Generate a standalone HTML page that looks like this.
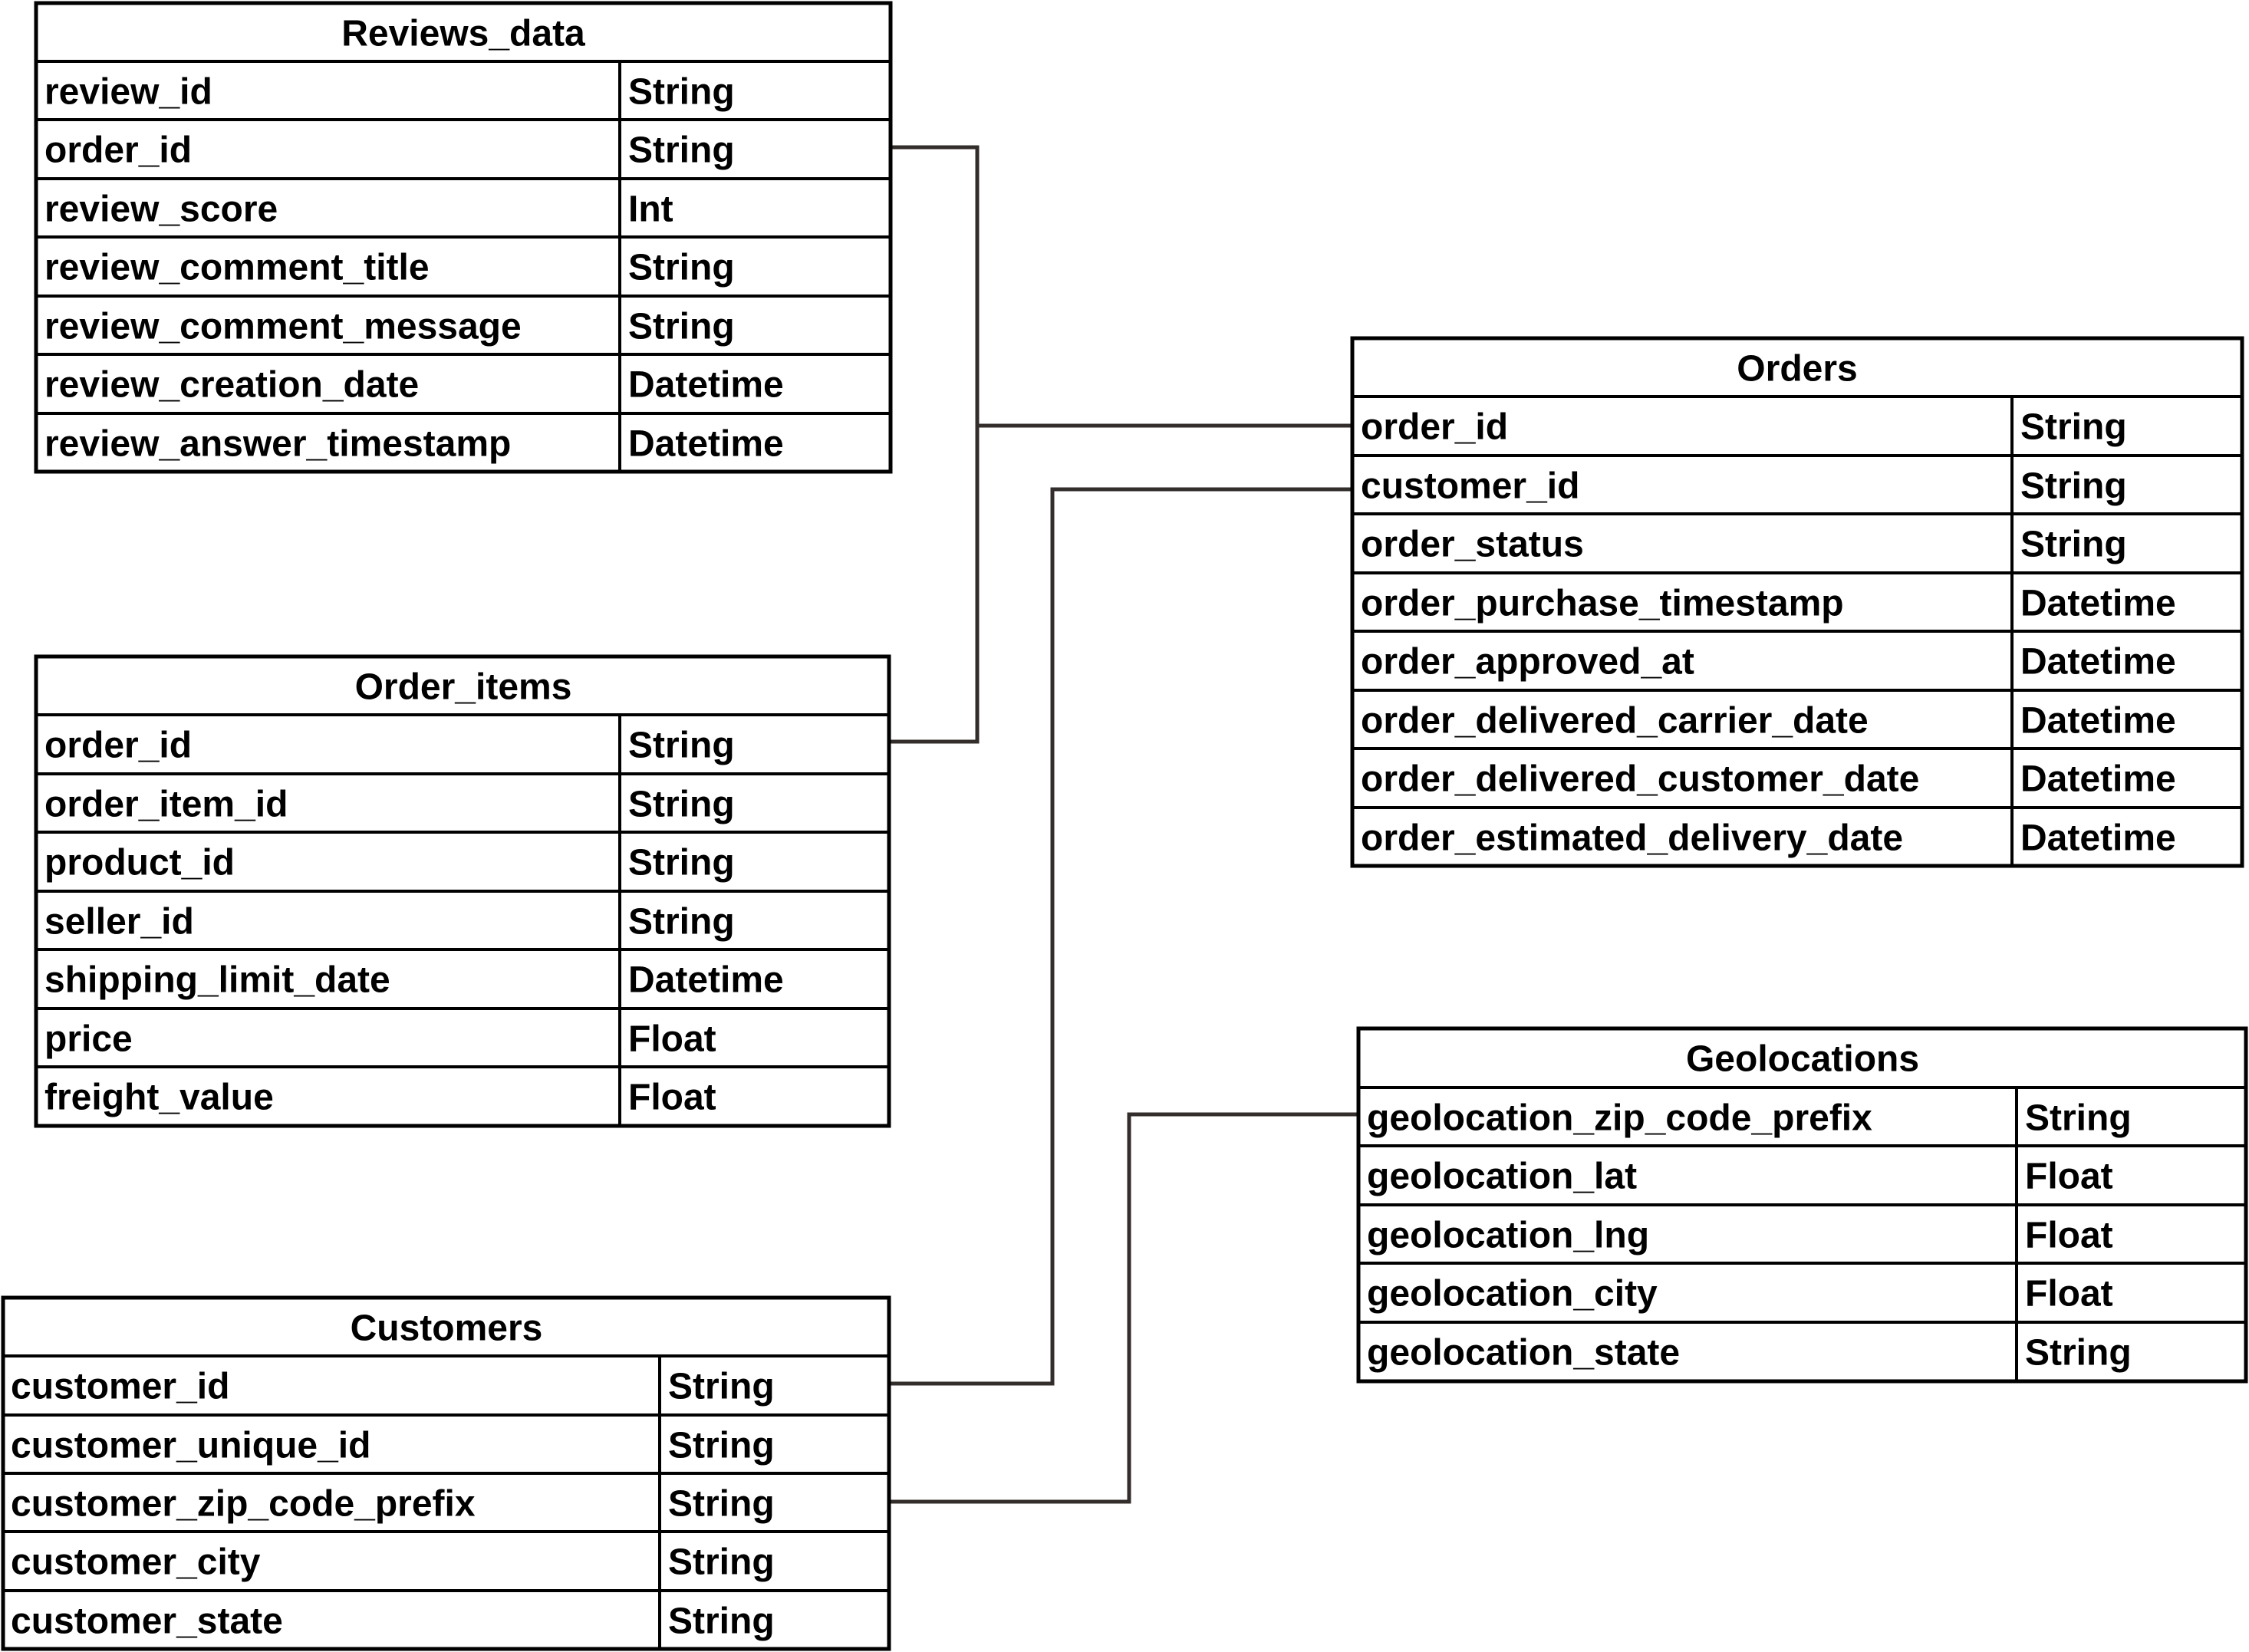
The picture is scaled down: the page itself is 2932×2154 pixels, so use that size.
<!DOCTYPE html>
<html><head><meta charset="utf-8"><style>
html,body{margin:0;padding:0;background:#fff;}
svg{display:block;}
text{font-family:"Liberation Sans",sans-serif;font-weight:bold;font-size:48px;fill:#000;dominant-baseline:central;}
.h{text-anchor:middle;}
.c{stroke:#332d2b;stroke-width:5;fill:none;}
.b{stroke:#000;stroke-width:5;fill:none;}
.t{stroke:#000;stroke-width:4;}
</style></head><body>
<svg width="2932" height="2154" viewBox="0 0 2932 2154" xmlns="http://www.w3.org/2000/svg">
<polyline class="c" points="1161,192 1274,192 1274,967 1159,967"/>
<line class="c" x1="1274" y1="555" x2="1763" y2="555"/>
<polyline class="c" points="1159,1804 1372,1804 1372,638 1763,638"/>
<polyline class="c" points="1159,1958 1472,1958 1472,1453 1771,1453"/>

<g>
<rect class="b" x="47" y="4" width="1114" height="611"/>
<line class="t" x1="47" y1="80" x2="1161" y2="80"/>
<line class="t" x1="47" y1="156" x2="1161" y2="156"/>
<line class="t" x1="47" y1="233" x2="1161" y2="233"/>
<line class="t" x1="47" y1="309" x2="1161" y2="309"/>
<line class="t" x1="47" y1="386" x2="1161" y2="386"/>
<line class="t" x1="47" y1="462" x2="1161" y2="462"/>
<line class="t" x1="47" y1="539" x2="1161" y2="539"/>
<line class="t" x1="808" y1="80" x2="808" y2="615"/>
<text class="h" x="604" y="44">Reviews_data</text>
<text x="58" y="120">review_id</text><text x="819" y="120">String</text>
<text x="58" y="196">order_id</text><text x="819" y="196">String</text>
<text x="58" y="273">review_score</text><text x="819" y="273">Int</text>
<text x="58" y="349">review_comment_title</text><text x="819" y="349">String</text>
<text x="58" y="426">review_comment_message</text><text x="819" y="426">String</text>
<text x="58" y="502">review_creation_date</text><text x="819" y="502">Datetime</text>
<text x="58" y="579">review_answer_timestamp</text><text x="819" y="579">Datetime</text>
</g>

<g>
<rect class="b" x="47" y="856" width="1112" height="612"/>
<line class="t" x1="47" y1="932" x2="1159" y2="932"/>
<line class="t" x1="47" y1="1009" x2="1159" y2="1009"/>
<line class="t" x1="47" y1="1085" x2="1159" y2="1085"/>
<line class="t" x1="47" y1="1162" x2="1159" y2="1162"/>
<line class="t" x1="47" y1="1238" x2="1159" y2="1238"/>
<line class="t" x1="47" y1="1315" x2="1159" y2="1315"/>
<line class="t" x1="47" y1="1391" x2="1159" y2="1391"/>
<line class="t" x1="808" y1="932" x2="808" y2="1468"/>
<text class="h" x="604" y="896">Order_items</text>
<text x="58" y="972">order_id</text><text x="819" y="972">String</text>
<text x="58" y="1049">order_item_id</text><text x="819" y="1049">String</text>
<text x="58" y="1125">product_id</text><text x="819" y="1125">String</text>
<text x="58" y="1202">seller_id</text><text x="819" y="1202">String</text>
<text x="58" y="1278">shipping_limit_date</text><text x="819" y="1278">Datetime</text>
<text x="58" y="1355">price</text><text x="819" y="1355">Float</text>
<text x="58" y="1431">freight_value</text><text x="819" y="1431">Float</text>
</g>

<g>
<rect class="b" x="4" y="1692" width="1155" height="458"/>
<line class="t" x1="4" y1="1768" x2="1159" y2="1768"/>
<line class="t" x1="4" y1="1845" x2="1159" y2="1845"/>
<line class="t" x1="4" y1="1921" x2="1159" y2="1921"/>
<line class="t" x1="4" y1="1997" x2="1159" y2="1997"/>
<line class="t" x1="4" y1="2074" x2="1159" y2="2074"/>
<line class="t" x1="860" y1="1768" x2="860" y2="2150"/>
<text class="h" x="582" y="1732">Customers</text>
<text x="14" y="1808">customer_id</text><text x="871" y="1808">String</text>
<text x="14" y="1885">customer_unique_id</text><text x="871" y="1885">String</text>
<text x="14" y="1961">customer_zip_code_prefix</text><text x="871" y="1961">String</text>
<text x="14" y="2037">customer_city</text><text x="871" y="2037">String</text>
<text x="14" y="2114">customer_state</text><text x="871" y="2114">String</text>
</g>

<g>
<rect class="b" x="1763" y="441" width="1160" height="688"/>
<line class="t" x1="1763" y1="517" x2="2923" y2="517"/>
<line class="t" x1="1763" y1="594" x2="2923" y2="594"/>
<line class="t" x1="1763" y1="670" x2="2923" y2="670"/>
<line class="t" x1="1763" y1="747" x2="2923" y2="747"/>
<line class="t" x1="1763" y1="823" x2="2923" y2="823"/>
<line class="t" x1="1763" y1="900" x2="2923" y2="900"/>
<line class="t" x1="1763" y1="976" x2="2923" y2="976"/>
<line class="t" x1="1763" y1="1053" x2="2923" y2="1053"/>
<line class="t" x1="2623" y1="517" x2="2623" y2="1129"/>
<text class="h" x="2343" y="481">Orders</text>
<text x="1774" y="557">order_id</text><text x="2634" y="557">String</text>
<text x="1774" y="634">customer_id</text><text x="2634" y="634">String</text>
<text x="1774" y="710">order_status</text><text x="2634" y="710">String</text>
<text x="1774" y="787">order_purchase_timestamp</text><text x="2634" y="787">Datetime</text>
<text x="1774" y="863">order_approved_at</text><text x="2634" y="863">Datetime</text>
<text x="1774" y="940">order_delivered_carrier_date</text><text x="2634" y="940">Datetime</text>
<text x="1774" y="1016">order_delivered_customer_date</text><text x="2634" y="1016">Datetime</text>
<text x="1774" y="1093">order_estimated_delivery_date</text><text x="2634" y="1093">Datetime</text>
</g>

<g>
<rect class="b" x="1771" y="1341" width="1157" height="460"/>
<line class="t" x1="1771" y1="1418" x2="2928" y2="1418"/>
<line class="t" x1="1771" y1="1494" x2="2928" y2="1494"/>
<line class="t" x1="1771" y1="1571" x2="2928" y2="1571"/>
<line class="t" x1="1771" y1="1647" x2="2928" y2="1647"/>
<line class="t" x1="1771" y1="1724" x2="2928" y2="1724"/>
<line class="t" x1="2629" y1="1418" x2="2629" y2="1801"/>
<text class="h" x="2350" y="1381">Geolocations</text>
<text x="1782" y="1458">geolocation_zip_code_prefix</text><text x="2640" y="1458">String</text>
<text x="1782" y="1534">geolocation_lat</text><text x="2640" y="1534">Float</text>
<text x="1782" y="1611">geolocation_lng</text><text x="2640" y="1611">Float</text>
<text x="1782" y="1687">geolocation_city</text><text x="2640" y="1687">Float</text>
<text x="1782" y="1764">geolocation_state</text><text x="2640" y="1764">String</text>
</g>
</svg>
</body></html>
